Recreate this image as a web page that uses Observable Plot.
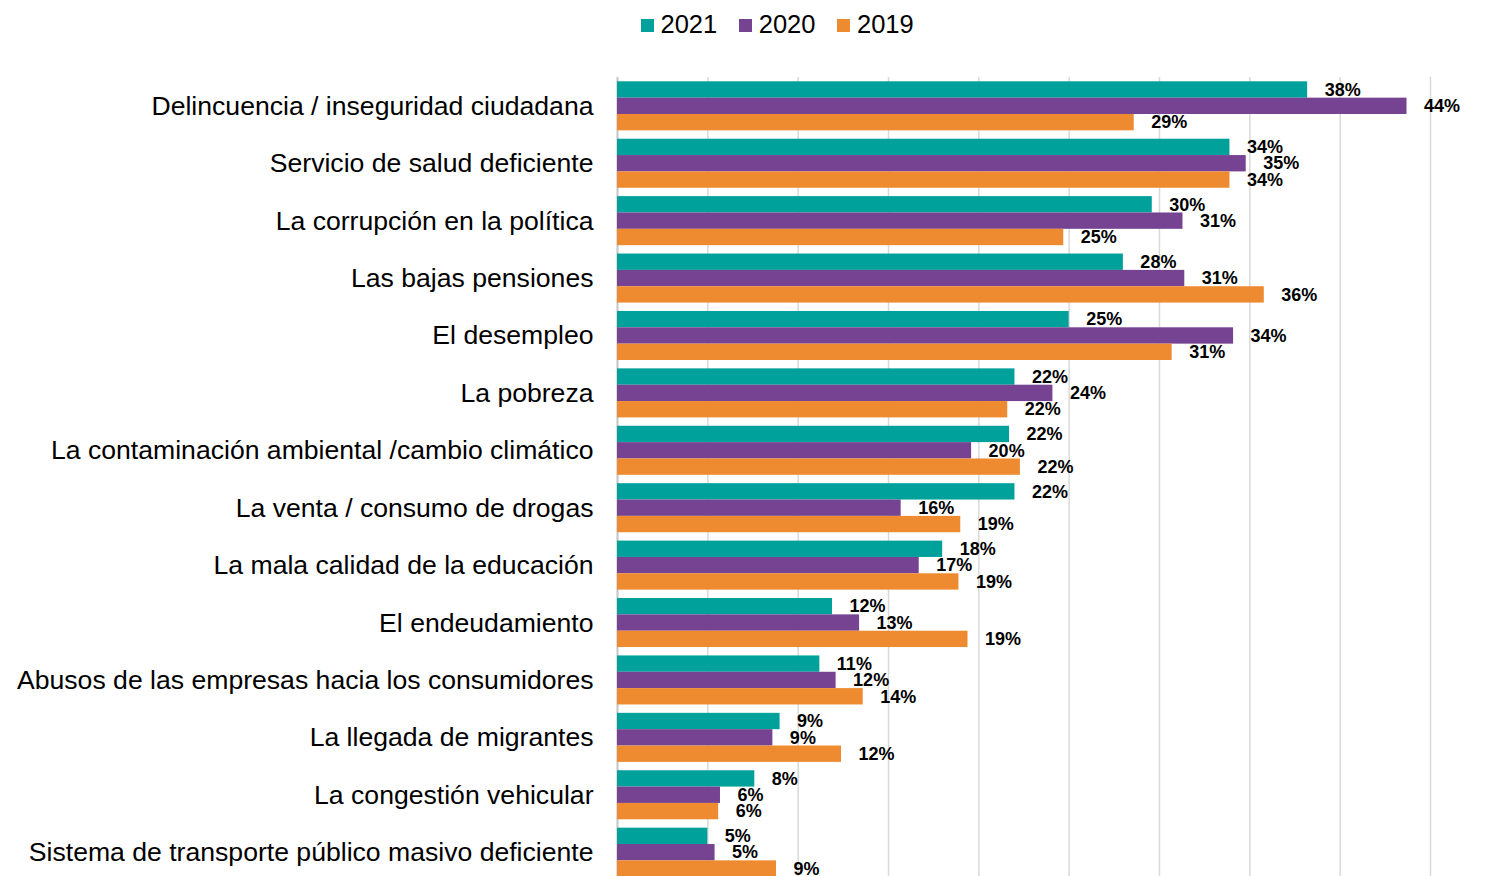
<!DOCTYPE html>
<html>
<head>
<meta charset="utf-8">
<script src="https://cdn.jsdelivr.net/npm/d3@7"></script>
<script src="https://cdn.jsdelivr.net/npm/@observablehq/plot@0.6"></script>
<style>
  html, body { margin: 0; padding: 0; overflow: hidden; background: #fff; }
  body { width: 1499px; height: 876px; font-family: "Liberation Sans", Arial, sans-serif; }
  #legend { height: 50px; display: flex; align-items: center; padding-left: 641px; box-sizing: border-box; font-size: 25.5px; color: #000; }
  #legend .item { display: flex; align-items: center; margin-right: 22px; }
  #legend .sw { width: 13px; height: 13px; margin-right: 6.5px; }
  #legend .item span.t { line-height: 1; }
  #chart svg { display: block; }
</style>
</head>
<body>
<div id="legend"></div>
<div id="chart"></div>
<script>
const categories = [
  "Delincuencia / inseguridad ciudadana",
  "Servicio de salud deficiente",
  "La corrupción en la política",
  "Las bajas pensiones",
  "El desempleo",
  "La pobreza",
  "La contaminación ambiental /cambio climático",
  "La venta / consumo de drogas",
  "La mala calidad de la educación",
  "El endeudamiento",
  "Abusos de las empresas hacia los consumidores",
  "La llegada de migrantes",
  "La congestión vehicular",
  "Sistema de transporte público masivo deficiente"
];
const seriesNames = ["2021", "2020", "2019"];
const seriesColors = ["#00a19a", "#764392", "#ee8a2f"];
const v2021 = [38.2, 33.9, 29.6, 28.0, 25.0, 22.0, 21.7, 22.0, 18.0, 11.9, 11.2, 9.0, 7.6, 5.0];
const v2020 = [43.7, 34.8, 31.3, 31.4, 34.1, 24.1, 19.6, 15.7, 16.7, 13.4, 12.1, 8.6, 5.7, 5.4];
const v2019 = [28.6, 33.9, 24.7, 35.8, 30.7, 21.6, 22.3, 19.0, 18.9, 19.4, 13.6, 12.4, 5.6, 8.8];
const gridTicks = [0, 5, 10, 15, 20, 25, 30, 35, 40, 45];

const seriesValues = [v2021, v2020, v2019];

// legend
const legend = document.getElementById("legend");
seriesNames.forEach((s, i) => {
  const item = document.createElement("div");
  item.className = "item";
  const sw = document.createElement("div");
  sw.className = "sw";
  sw.style.background = seriesColors[i];
  const t = document.createElement("span");
  t.className = "t";
  t.textContent = s;
  item.appendChild(sw);
  item.appendChild(t);
  legend.appendChild(item);
});

const rows = [];
seriesNames.forEach((s, si) => {
  categories.forEach((c, ci) => {
    rows.push({category: c, series: s, si, value: seriesValues[si][ci]});
  });
});

const width = 1499, height = 831, marginTop = 27, marginBottom = 0;
const pInner = 0.146, pOuter = 0.075;
const H = height - marginTop - marginBottom;
const step = H / (categories.length - pInner + 2 * pOuter);
const bw = step * (1 - pInner);
const bh = bw / 3;

const marks = [
  Plot.gridX(gridTicks, {stroke: "#d9d9d9", strokeOpacity: 1, strokeWidth: 1.5}),
  Plot.ruleX([0], {stroke: "#c8c8c8", strokeWidth: 2})
];
seriesNames.forEach((s, si) => {
  const data = rows.filter(d => d.si === si);
  marks.push(Plot.barX(data, {
    x: "value", y: "category", fill: seriesColors[si],
    insetTop: si * bh, insetBottom: (2 - si) * bh
  }));
  marks.push(Plot.text(data, {
    x: "value", y: "category", text: d => Math.round(d.value) + "%",
    dx: 17, dy: (si - 1) * bh, textAnchor: "start",
    fontWeight: "bold", fontSize: 18, fill: "#000"
  }));
});
marks.push(Plot.axisY({tickSize: 0, tickPadding: 24, fontSize: 26.6, label: null, fill: "#000"}));

const chart = Plot.plot({
  width, height, marginTop, marginBottom,
  marginLeft: 617, marginRight: 69,
  style: {fontFamily: "'Liberation Sans', Arial, sans-serif", background: "#fff", color: "#000", overflow: "visible"},
  x: {domain: [0, 45], axis: null},
  y: {domain: categories, paddingInner: pInner, paddingOuter: pOuter, round: false, axis: null},
  marks
});
document.getElementById("chart").appendChild(chart);
</script>
</body>
</html>
